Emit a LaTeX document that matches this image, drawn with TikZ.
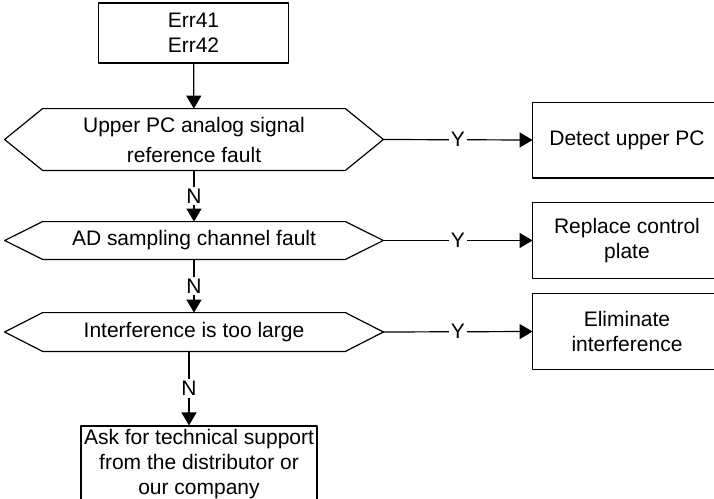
\documentclass[tikz,border=0pt]{standalone}
\usepackage{fontspec}
\setmainfont{Liberation Sans}
\usetikzlibrary{calc,positioning,arrows.meta}

\begin{document}
\begin{tikzpicture}[x=0.5pt,y=-0.5pt,font=\fontsize{10.5}{12.5}\selectfont, line cap=round, line join=round]

% ---------- styles ----------
\tikzset{
  box/.style={draw, line width=0.6pt, inner sep=0pt, align=center},
  action/.style={inner sep=0pt, align=center, minimum width=94pt, minimum height=37.5pt},
  decision/.style={inner sep=0pt, align=center, minimum width=189pt},
  outline/.style={draw, line width=0.6pt},
  arr/.style={line width=0.6pt, -{Triangle[length=6.5pt,width=7.5pt]}},
  yn/.style={fill=white, inner sep=1pt},
}

% ---------- canvas ----------
\useasboundingbox (0,0) rectangle (714,499);

% ---------- main column ----------
\node[box, minimum width=95pt, minimum height=30pt] (start) at (193.5,33)
  {Err41\\Err42};

\node[decision, minimum height=30.5pt] (q1) at (194,139.5)
  {Upper PC analog signal\\[2.5pt] reference fault};
\node[decision, minimum height=18.5pt] (q2) at (194,240.5)
  {AD sampling channel fault};
\node[decision, minimum height=19pt] (q3) at (194,332)
  {Interference is too large};

\node[box, minimum width=118pt, minimum height=38pt] (ask) at (199,464)
  {Ask for technical support\\from the distributor or\\our company};

% hexagon outlines round the decisions
\foreach \q in {q1,q2,q3}
  \draw[outline] (\q.west) -- ([xshift=19pt]\q.north west)
    -- ([xshift=-19pt]\q.north east) -- (\q.east)
    -- ([xshift=-19pt]\q.south east) -- ([xshift=19pt]\q.south west) -- cycle;

% ---------- action boxes (cut by the right edge) ----------
\node[action] (r1) at (627,140) {Detect upper PC};
\node[action] (r2) at (627,240.5) {Replace control\\plate};
\node[action] (r3) at (627,331.5) {Eliminate\\interference};

\foreach \r in {r1,r2,r3}
  \draw[outline] (\r.south west) rectangle ([xshift=12pt]\r.north east);

% ---------- connectors ----------
\draw[arr] (start) -- (q1);
\draw[arr] (q1) -- node[yn] {N} (q2);
\draw[arr] (q2) -- node[yn] {N} (q3);
\draw[arr] ([xshift=-2.5pt]q3.south) -- node[yn] {N} ([xshift=-2.5pt]q3.south |- ask.north);

\draw[arr] (q1.east) -- node[yn] {Y} (r1.west);
\draw[arr] (q2.east) -- node[yn] {Y} (r2.west);
\draw[arr] (q3.east) -- node[yn] {Y} (r3.west);

\end{tikzpicture}
\end{document}
